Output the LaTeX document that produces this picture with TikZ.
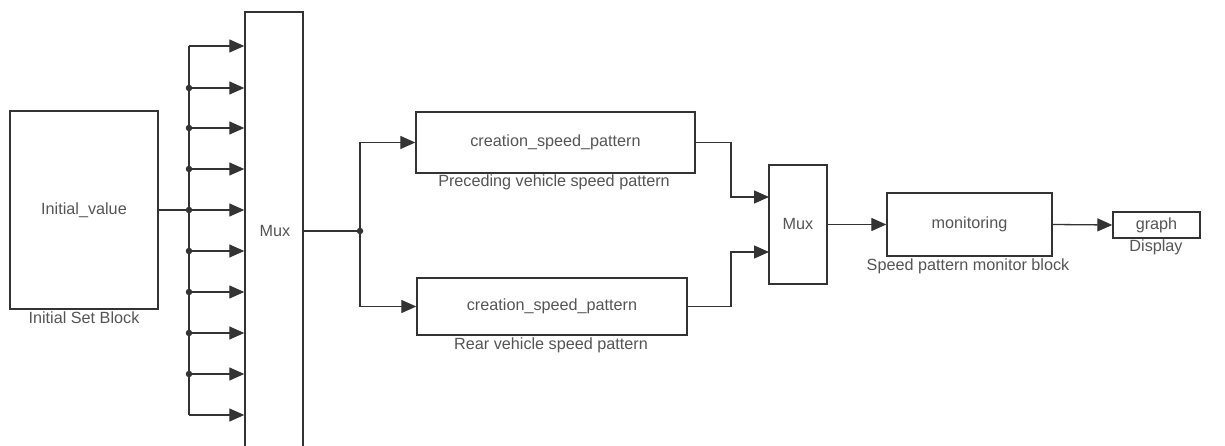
\documentclass[tikz,border=0pt]{standalone}
\usepackage{fontspec}
\setmainfont{Liberation Sans}
\usetikzlibrary{arrows.meta}
\definecolor{linec}{HTML}{333333}
\definecolor{textc}{HTML}{555555}
\begin{document}
\begin{tikzpicture}[x=1pt,y=-1pt,
  box/.style={draw=linec,line width=1.4pt,inner sep=0pt,fill=white,text=textc,font=\fontsize{16.2}{19}\selectfont},
  lbl/.style={text=textc,inner sep=0pt,font=\fontsize{16.2}{19}\selectfont},
  wire/.style={draw=linec,line width=1.3pt},
  arr/.style={wire,-{Triangle[length=15pt,width=13pt]}},
  dot/.style={circle,fill=linec,inner sep=0pt,minimum size=6.5pt}]
\useasboundingbox (0,0) rectangle (1225,446);
\fill[white] (0,0) rectangle (1225,446);
\clip (0,0) rectangle (1225,446);
% blocks
\node[box,minimum width=148pt,minimum height=198pt] (init) at (84,210) {Initial\_value};
\node[box,minimum width=58pt,minimum height=440pt] (mux) at (274,232) {};
\node[text=textc,font=\fontsize{16.2}{19}\selectfont] (muxt) at (275,231) {Mux};
\node[box,minimum width=279pt,minimum height=61pt] (up) at (555.5,142.5) {creation\_speed\_pattern};
\node[box,minimum width=270pt,minimum height=57pt] (lo) at (552,306.5) {creation\_speed\_pattern};
\node[box,minimum width=58pt,minimum height=119pt] (mux2) at (798,224.5) {Mux};
\node[box,minimum width=165pt,minimum height=63pt] (mon) at (969.5,224.5) {monitoring};
\node[box,minimum width=87pt,minimum height=26pt] (graph) at (1156.5,225) {graph};
% labels
\node[lbl] (linit) at (84,318) {Initial Set Block};
\node[lbl] (lup) at (554,182) {Preceding vehicle speed pattern};
\node[lbl] (llo) at (551,345) {Rear vehicle speed pattern};
\node[lbl] (lmon) at (968,266) {Speed pattern monitor block};
\node[lbl] (lgraph) at (1156,247) {Display};
% bus
\coordinate (b1) at (189,46);
\coordinate (b2) at (189,88);
\coordinate (b3) at (189,128);
\coordinate (b4) at (189,169);
\coordinate (b5) at (189,210);
\coordinate (b6) at (189,251);
\coordinate (b7) at (189,292);
\coordinate (b8) at (189,333);
\coordinate (b9) at (189,374);
\coordinate (b10) at (189,415);
\draw[wire] (init.east) -- (b5);
\draw[wire] (b1) -- (b10);
\foreach \i in {1,...,10} {\draw[arr] (b\i) -- (b\i -| mux.west);}
\foreach \i in {2,...,9} {\node[dot] at (b\i) {};}
% split
\coordinate (mo) at (303,231);
\coordinate (j) at (360,231);
\draw[wire] (mo) -- (j);
\node[dot] (jd) at (j) {};
\draw[arr] (j) |- (up.west);
\draw[arr] (j) |- (lo.west);
% to mux2
\coordinate (ku) at (731,142.5);
\coordinate (kl) at (731,306.5);
\coordinate (iu) at (769,197);
\coordinate (il) at (769,252);
\draw[wire] (up.east) -- (ku);
\draw[arr] (ku) |- (iu);
\draw[wire] (lo.east) -- (kl);
\draw[arr] (kl) |- (il);
\draw[arr] (mux2.east) -- (mon.west);
\draw[arr] (mon.east) -- (graph.west);
\end{tikzpicture}
\end{document}
